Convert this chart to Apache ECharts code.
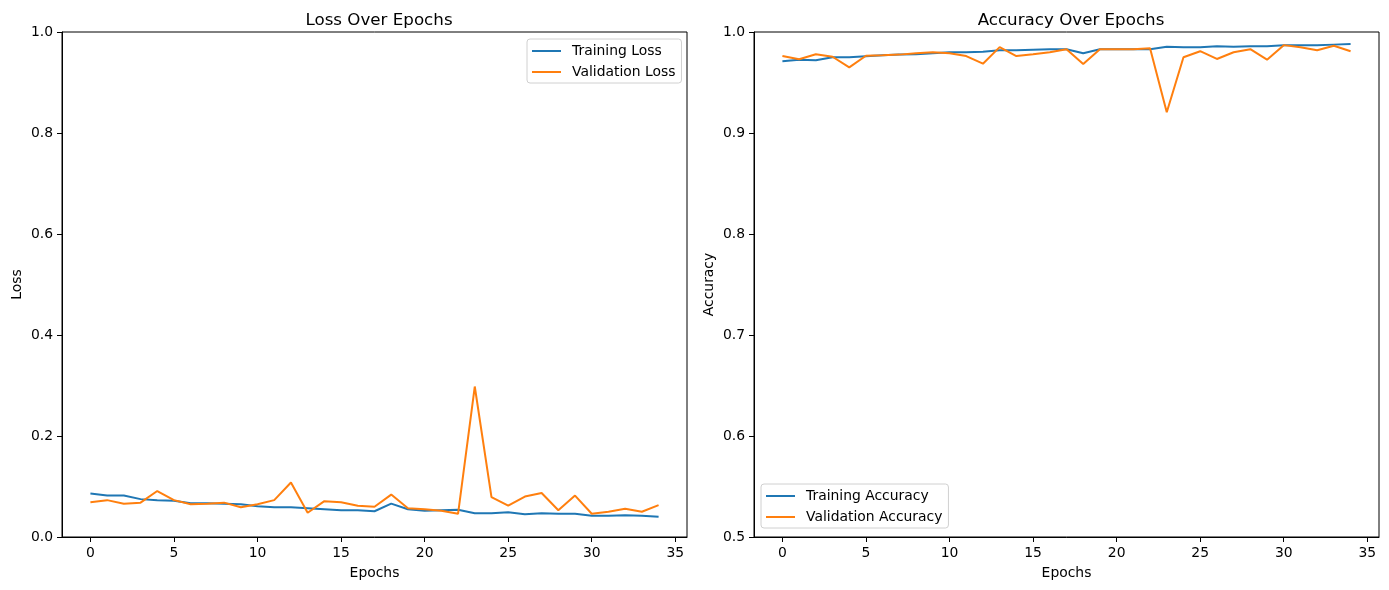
<!DOCTYPE html>
<html>
<head>
<meta charset="utf-8">
<script src="https://cdn.jsdelivr.net/npm/echarts/dist/echarts.min.js"></script>
<style>
html,body{margin:0;padding:0;background:#fff;}
#chart{width:1389px;height:590px;}
</style>
</head>
<body>
<div id="chart"></div>
<script>
// epochs 0..34
var epochs = [];
for (var e = 0; e < 35; e++) { epochs.push(e); }
var epochTicks = [0, 5, 10, 15, 20, 25, 30, 35];

var trainLoss = [0.086, 0.082, 0.082, 0.075, 0.073, 0.072, 0.067, 0.067, 0.066, 0.065,
	0.061, 0.059, 0.059, 0.057, 0.055, 0.053, 0.053, 0.051, 0.066, 0.055,
	0.052, 0.053, 0.054, 0.047, 0.047, 0.049, 0.045, 0.047, 0.046, 0.046,
	0.042, 0.042, 0.043, 0.042, 0.040];
var valLoss = [0.069, 0.073, 0.066, 0.068, 0.091, 0.073, 0.065, 0.066, 0.068, 0.059,
	0.065, 0.073, 0.108, 0.048, 0.071, 0.069, 0.062, 0.060, 0.084, 0.057,
	0.055, 0.052, 0.046, 0.298, 0.079, 0.062, 0.080, 0.087, 0.053, 0.082,
	0.046, 0.050, 0.056, 0.050, 0.063];

var trainAcc = [0.971, 0.9725, 0.972, 0.975, 0.975, 0.976, 0.977, 0.9776, 0.978, 0.979,
	0.980, 0.980, 0.9805, 0.982, 0.982, 0.9825, 0.983, 0.983, 0.979, 0.983,
	0.983, 0.983, 0.983, 0.9855, 0.985, 0.985, 0.9858, 0.9855, 0.986, 0.986,
	0.9868, 0.987, 0.987, 0.9875, 0.988];
var valAcc = [0.9762, 0.973, 0.978, 0.9755, 0.965, 0.9765, 0.977, 0.9776, 0.979, 0.980,
	0.979, 0.9762, 0.9686, 0.985, 0.9762, 0.978, 0.980, 0.983, 0.9683, 0.983,
	0.983, 0.983, 0.9838, 0.9205, 0.975, 0.981, 0.9733, 0.980, 0.983, 0.9726,
	0.987, 0.985, 0.982, 0.9864, 0.981];

var lossTicks = [0.0, 0.2, 0.4, 0.6, 0.8, 1.0];
var accTicks = [0.5, 0.6, 0.7, 0.8, 0.9, 1.0];

var blue = '#1f77b4';
var orange = '#ff7f0e';
var font = 'DejaVu Sans';
var fs = 13.9;

function pairs(vals) {
	var out = [];
	for (var i = 0; i < vals.length; i++) { out.push([epochs[i], vals[i]]); }
	return out;
}

function xAxisOf(idx) {
	return {
		type: 'value', gridIndex: idx, min: -1.7, max: 35.7,
		name: 'Epochs', nameLocation: 'middle', nameGap: 29,
		nameTextStyle: {color: '#000', fontFamily: font, fontSize: fs},
		splitLine: {show: false},
		axisLine: {show: true, onZero: false, lineStyle: {color: '#000', width: 1}},
		axisTick: {show: true, customValues: epochTicks, length: 5, lineStyle: {color: '#000'}},
		axisLabel: {customValues: epochTicks, color: '#000', fontFamily: font, fontSize: fs, margin: 9}
	};
}

function yAxisOf(idx, name, ticks) {
	return {
		type: 'value', gridIndex: idx, min: ticks[0], max: ticks[ticks.length - 1],
		interval: Math.round((ticks[1] - ticks[0]) * 10) / 10,
		name: name, nameLocation: 'middle', nameGap: 38, nameRotate: 90,
		nameTextStyle: {color: '#000', fontFamily: font, fontSize: fs},
		splitLine: {show: false},
		axisLine: {show: true, onZero: false, lineStyle: {color: '#000', width: 1}},
		axisTick: {show: true, length: 5, lineStyle: {color: '#000'}},
		axisLabel: {
			color: '#000', fontFamily: font, fontSize: fs, margin: 9,
			formatter: function (v) { return v.toFixed(1); }
		}
	};
}

function lineSeries(name, vals, color, idx) {
	return {
		name: name, type: 'line', xAxisIndex: idx, yAxisIndex: idx,
		data: pairs(vals), symbol: 'none', color: color,
		lineStyle: {color: color, width: 2}
	};
}

function legendOf(names, left, top) {
	return {
		data: names, orient: 'vertical', left: left, top: top,
		icon: 'rect', itemWidth: 29, itemHeight: 2, itemGap: 5,
		padding: [4, 6, 3, 5],
		borderColor: '#d0d0d0', borderWidth: 1, borderRadius: 3,
		backgroundColor: 'rgba(255,255,255,0.8)',
		textStyle: {color: '#000', fontFamily: font, fontSize: fs, padding: [0, 0, 0, 6], lineHeight: 16}
	};
}

var chart = echarts.init(document.getElementById('chart'));
var option = {
	animation: false,
	backgroundColor: '#fff',
	title: [
		{text: 'Loss Over Epochs', left: 374, top: 7, textAlign: 'center',
			textStyle: {color: '#000', fontFamily: font, fontSize: 16.7, fontWeight: 'normal'}},
		{text: 'Accuracy Over Epochs', left: 1066, top: 7, textAlign: 'center',
			textStyle: {color: '#000', fontFamily: font, fontSize: 16.7, fontWeight: 'normal'}}
	],
	legend: [
		legendOf(['Training Loss', 'Validation Loss'], 527, 39),
		legendOf(['Training Accuracy', 'Validation Accuracy'], 761, 484)
	],
	grid: [
		{left: 62, right: 1389 - 687, top: 32, bottom: 53, show: true, borderColor: '#000', borderWidth: 1},
		{left: 754, right: 1389 - 1379, top: 32, bottom: 53, show: true, borderColor: '#000', borderWidth: 1}
	],
	xAxis: [xAxisOf(0), xAxisOf(1)],
	yAxis: [yAxisOf(0, 'Loss', lossTicks), yAxisOf(1, 'Accuracy', accTicks)],
	series: [
		lineSeries('Training Loss', trainLoss, blue, 0),
		lineSeries('Validation Loss', valLoss, orange, 0),
		lineSeries('Training Accuracy', trainAcc, blue, 1),
		lineSeries('Validation Accuracy', valAcc, orange, 1)
	]
};
chart.setOption(option);
</script>
</body>
</html>
